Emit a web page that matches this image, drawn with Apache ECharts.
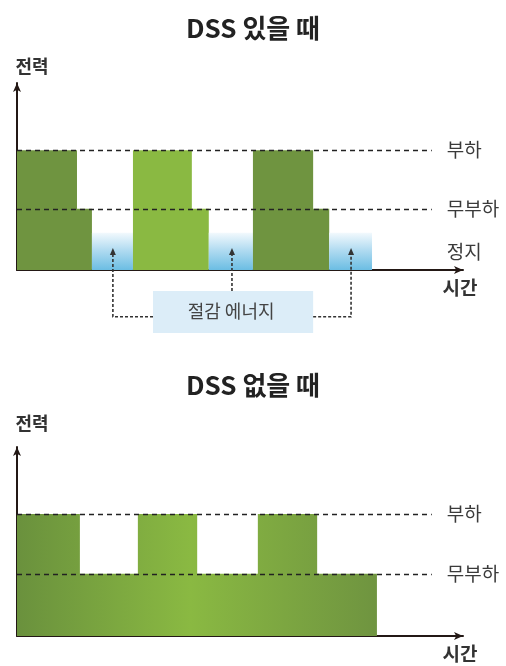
<!DOCTYPE html>
<html>
<head>
<meta charset="utf-8">
<script src="https://cdn.jsdelivr.net/npm/echarts@6/dist/echarts.min.js"></script>
<style>
html,body{margin:0;padding:0;background:#fff;}
#c{width:506px;height:666px;}
</style>
</head>
<body>
<div id="c"></div>
<script>
// ---- data ----
const titles = ['DSS 있을 때', 'DSS 없을 때'];
const axisNames = ['전력', '시간'];
const xMax = 100;
const yMax = [156, 155];
const levelNames = ['부하', '무부하', '정지'];
const levelValues = [100, 51, 31];
const levelLineEnd = 93;
// with DSS: each cycle = load, then no-load, then stop
const withStart = [0, 26.0, 52.9];
const withLoadEnd = [13.45, 39.2, 66.4];
const withNoLoadEnd = [16.8, 43.0, 70.0];
const withStopEnd = [26.0, 52.9, 79.6];
const withColorIdx = [0, 1, 0];
// without DSS: load peaks on top of continuous no-load
const withoutLoadStart = [0, 27.1, 54.0];
const withoutLoadEnd = [14.1, 40.4, 67.3];
const withoutNoLoadEnd = 80.7;
// saved energy annotation
const savingLabel = '절감 에너지';
const savingArrowX = [21.5, 48.2, 74.9];
const savingArrowTip = 18.3;
const savingBoxX = [30.5, 66.4];
const savingBoxY = [-17.5, -52.5];
const savingConnectorY = -39;

// ---- styles ----
const FONT = '"Noto Sans CJK KR", "Noto Sans", sans-serif';
const greens = ['#6f9440', '#8ab942'];
const blueFill = {type:'linear', x:0, y:0, x2:0, y2:1, colorStops:[
  {offset:0, color:'#f2f9fd'}, {offset:0.45, color:'#b3dcf1'}, {offset:1, color:'#6bbde3'}]};
const axisColor = '#231815';
const dotted = {stroke:'#333', lineWidth:1.6, lineDash:[3,2], fill:null};
const yNameGap = [8, 15];

function axes(i) {
  return {
    x: {type:'value', gridIndex:i, min:0, max:xMax, axisTick:{show:false}, axisLabel:{show:false}, splitLine:{show:false},
      axisLine:{show:true, onZero:false, symbol:['none','arrow'], symbolSize:[6,9], lineStyle:{color:axisColor, width:2}},
      name:axisNames[1], nameLocation:'end', nameGap:-3,
      nameTextStyle:{fontFamily:FONT, fontSize:19, fontWeight:'bold', color:'#333', align:'center', verticalAlign:'top', padding:[8,0,0,0]}},
    y: {type:'value', gridIndex:i, min:0, max:yMax[i], axisTick:{show:false}, axisLabel:{show:false}, splitLine:{show:false},
      axisLine:{show:true, onZero:false, symbol:['none','arrow'], symbolSize:[6,9], lineStyle:{color:axisColor, width:2}},
      name:axisNames[0], nameLocation:'end', nameGap:yNameGap[i],
      nameTextStyle:{fontFamily:FONT, fontSize:18, fontWeight:'bold', color:'#333', align:'center', padding:[0,0,0,30]}}
  };
}
const a0 = axes(0), a1 = axes(1);

function levelMarkLine(withStop) {
  const lbl = {show:true, position:'end', distance:15, formatter:'{b}', fontFamily:FONT, fontSize:19, color:'#3a3a3a'};
  const d = [
    [{coord:[0, levelValues[0]], name:levelNames[0]}, {coord:[levelLineEnd, levelValues[0]]}],
    [{coord:[0, levelValues[1]], name:levelNames[1]}, {coord:[levelLineEnd, levelValues[1]]}]
  ];
  if (withStop) d.push([{coord:[0, levelValues[2]/2], name:levelNames[2], lineStyle:{color:'rgba(0,0,0,0)'}}, {coord:[levelLineEnd, levelValues[2]/2]}]);
  return {silent:true, symbol:['none','none'], animation:false, label:lbl,
    lineStyle:{color:'#222', type:[5,4], width:1.4}, data:d};
}

const withData = withStart.map((s,i)=>[s, withLoadEnd[i], withNoLoadEnd[i], withStopEnd[i], withColorIdx[i]]);

function renderWith(params, api) {
  const s = api.value(0), le = api.value(1), ne = api.value(2), se = api.value(3), ci = api.value(4);
  const L = levelValues;
  const pts = [[s,0],[s,L[0]],[le,L[0]],[le,L[1]],[ne,L[1]],[ne,0]].map(p=>api.coord(p));
  const b0 = api.coord([ne, L[2]]), b1 = api.coord([se, 0]);
  return {type:'group', children:[
    {type:'polygon', shape:{points:pts}, style:{fill:greens[ci]}},
    {type:'rect', shape:{x:b0[0], y:b0[1], width:b1[0]-b0[0], height:b1[1]-b0[1]}, style:{fill:blueFill}}
  ]};
}

function renderWithout(params, api) {
  const L = levelValues;
  const p = [[0,0]];
  withoutLoadStart.forEach((s,i)=>{
    p.push([s, L[1]]); p.push([s, L[0]]); p.push([withoutLoadEnd[i], L[0]]); p.push([withoutLoadEnd[i], L[1]]);
  });
  p[1] = [0, L[1]];
  p.push([withoutNoLoadEnd, L[1]]); p.push([withoutNoLoadEnd, 0]);
  const pts = p.map(q=>api.coord(q));
  const x0 = api.coord([0,0])[0], x1 = api.coord([withoutNoLoadEnd,0])[0];
  const fill = {type:'linear', x:x0, y:0, x2:x1, y2:0, global:true, colorStops:[
    {offset:0, color:'#6a913d'}, {offset:0.48, color:'#8ab942'}, {offset:1, color:'#6f9440'}]};
  return {type:'polygon', shape:{points:pts}, style:{fill:fill}};
}

function arrowHead(c) {
  return {type:'polygon', shape:{points:[[c[0], c[1]], [c[0]-3, c[1]+7], [c[0]+3, c[1]+7]]}, style:{fill:'#333'}};
}

function renderSaving(params, api) {
  const tl = api.coord([savingBoxX[0], savingBoxY[0]]);
  const br = api.coord([savingBoxX[1], savingBoxY[1]]);
  const children = [
    {type:'rect', shape:{x:tl[0], y:tl[1], width:br[0]-tl[0], height:br[1]-tl[1]}, style:{fill:'#dcedf8'}},
    {type:'text', style:{text:savingLabel, x:(tl[0]+br[0])/2 - 2, y:(tl[1]+br[1])/2-1, align:'center', verticalAlign:'middle',
      fontFamily:FONT, fontSize:18, fill:'#444'}}
  ];
  const tips = savingArrowX.map(x=>api.coord([x, savingArrowTip]));
  const cl = api.coord([savingArrowX[0], savingConnectorY]);
  const cr = api.coord([savingArrowX[2], savingConnectorY]);
  const bl = api.coord([savingBoxX[0], savingConnectorY]);
  const brc = api.coord([savingBoxX[1], savingConnectorY]);
  children.push({type:'polyline', shape:{points:[bl, cl, [tips[0][0], tips[0][1]+6]]}, style:dotted});
  children.push({type:'polyline', shape:{points:[[tips[1][0], tl[1]], [tips[1][0], tips[1][1]+6]]}, style:dotted});
  children.push({type:'polyline', shape:{points:[brc, cr, [tips[2][0], tips[2][1]+6]]}, style:dotted});
  tips.forEach(t=>children.push(arrowHead(t)));
  return {type:'group', children:children};
}

const chart = echarts.init(document.getElementById('c'), null, {renderer:'canvas'});
chart.setOption({
  backgroundColor:'#fff',
  animation:false,
  title:[
    {text:titles[0], left:'center', top:10, textStyle:{fontFamily:FONT, fontSize:26, fontWeight:'bold', color:'#222'}},
    {text:titles[1], left:'center', top:367, textStyle:{fontFamily:FONT, fontSize:26, fontWeight:'bold', color:'#222'}}
  ],
  grid:[
    {left:17, top:83, width:446, height:187},
    {left:17, top:447, width:446, height:189}
  ],
  xAxis:[a0.x, a1.x],
  yAxis:[a0.y, a1.y],
  series:[
    {type:'custom', xAxisIndex:0, yAxisIndex:0, data:withData, renderItem:renderWith, z:2, silent:true,
      markLine:levelMarkLine(true)},
    {type:'custom', xAxisIndex:0, yAxisIndex:0, data:[[0,0]], renderItem:renderSaving, z:3, silent:true, clip:false},
    {type:'custom', xAxisIndex:1, yAxisIndex:1, data:[[0,0]], renderItem:renderWithout, z:2, silent:true,
      markLine:levelMarkLine(false)}
  ]
});
</script>
</body>
</html>
